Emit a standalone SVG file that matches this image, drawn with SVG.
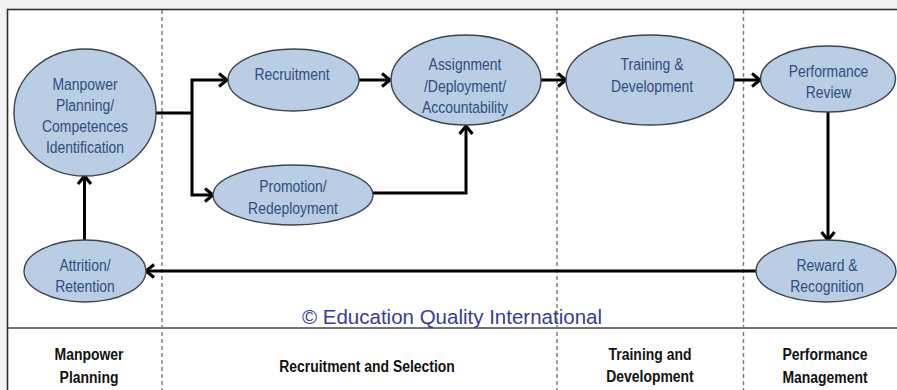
<svg xmlns="http://www.w3.org/2000/svg" width="897" height="390" viewBox="0 0 897 390">
<defs>
<style>
.bg{fill:#f3f3f3}
.frame{fill:#ffffff;stroke:#2e2e2e;stroke-width:1.6}
.sep{stroke:#444;stroke-width:1.4;fill:none}
.dash{stroke:#7a7a7a;stroke-width:1.4;stroke-dasharray:4 3;fill:none}
.node ellipse{fill:#b9cde5;stroke:#3d4450;stroke-width:1.4}
.node text{font-family:"Liberation Sans",Arial,sans-serif;font-size:17px;fill:#2f4d7e;text-anchor:middle}
.conn{stroke:#000;stroke-width:3;fill:none;stroke-linejoin:miter}
.lab{font-family:"Liberation Sans",Arial,sans-serif;font-size:17px;font-weight:bold;fill:#111;text-anchor:middle}
.copy{font-family:"Liberation Sans",Arial,sans-serif;font-size:20.5px;fill:#3a3a98}
</style>
<marker id="arr" markerUnits="userSpaceOnUse" markerWidth="14" markerHeight="16" refX="11" refY="8" orient="auto">
<path d="M3,1.5 L11,8 L3,14.5" fill="none" stroke="#000" stroke-width="3"/>
</marker>
</defs>
<rect class="bg" x="0" y="0" width="897" height="390"/>
<rect class="frame" x="7.5" y="9.5" width="895" height="390"/>
<line class="sep" x1="7.5" y1="328" x2="897" y2="328"/>
<g id="dividers">
<line class="dash" x1="162" y1="10" x2="162" y2="390"/>
<line class="dash" x1="557" y1="10" x2="557" y2="390"/>
<line class="dash" x1="743.5" y1="10" x2="743.5" y2="390"/>
</g>
<g id="connectors">
<polyline class="conn" points="156,113 192,113"/>
<polyline class="conn" points="192,113 192,80 227,80" marker-end="url(#arr)"/>
<polyline class="conn" points="192,113 192,195 213,195" marker-end="url(#arr)"/>
<line class="conn" x1="359" y1="80" x2="390" y2="80" marker-end="url(#arr)"/>
<polyline class="conn" points="372,193 466,193 466,126" marker-end="url(#arr)"/>
<line class="conn" x1="541" y1="80" x2="566" y2="80" marker-end="url(#arr)"/>
<line class="conn" x1="734" y1="80" x2="760" y2="80" marker-end="url(#arr)"/>
<line class="conn" x1="828" y1="112" x2="828" y2="240" marker-end="url(#arr)"/>
<line class="conn" x1="756" y1="271" x2="146" y2="271" marker-end="url(#arr)"/>
<line class="conn" x1="84.5" y1="240" x2="84.5" y2="176" marker-end="url(#arr)"/>
</g>
<g id="n-manpower" class="node">
<ellipse cx="85" cy="112.5" rx="71" ry="63.5"/>
<text transform="translate(85 90) scale(0.82 1)">Manpower</text>
<text transform="translate(85 111) scale(0.82 1)">Planning/</text>
<text transform="translate(85 132) scale(0.82 1)">Competences</text>
<text transform="translate(85 153) scale(0.82 1)">Identification</text>
</g>
<g id="n-recruitment" class="node">
<ellipse cx="293.5" cy="80" rx="65.5" ry="31"/>
<text transform="translate(292 80) scale(0.82 1)">Recruitment</text>
</g>
<g id="n-promotion" class="node">
<ellipse cx="293" cy="195" rx="80" ry="30"/>
<text transform="translate(293 192) scale(0.82 1)">Promotion/</text>
<text transform="translate(293 214) scale(0.82 1)">Redeployment</text>
</g>
<g id="n-assignment" class="node">
<ellipse cx="466" cy="80" rx="75" ry="45"/>
<text transform="translate(465 70) scale(0.82 1)">Assignment</text>
<text transform="translate(465 91.5) scale(0.82 1)">/Deployment/</text>
<text transform="translate(465 113) scale(0.82 1)">Accountability</text>
</g>
<g id="n-training" class="node">
<ellipse cx="650" cy="80" rx="84" ry="45"/>
<text transform="translate(652 70) scale(0.82 1)">Training &amp;</text>
<text transform="translate(652 91.5) scale(0.82 1)">Development</text>
</g>
<g id="n-performance" class="node">
<ellipse cx="828" cy="79" rx="67.5" ry="33"/>
<text transform="translate(828.5 76.5) scale(0.82 1)">Performance</text>
<text transform="translate(828.5 98) scale(0.82 1)">Review</text>
</g>
<g id="n-reward" class="node">
<ellipse cx="826" cy="271" rx="70" ry="31"/>
<text transform="translate(827 270.5) scale(0.82 1)">Reward &amp;</text>
<text transform="translate(827 292) scale(0.82 1)">Recognition</text>
</g>
<g id="n-attrition" class="node">
<ellipse cx="85" cy="271" rx="61" ry="31"/>
<text transform="translate(85 270.5) scale(0.82 1)">Attrition/</text>
<text transform="translate(85 292) scale(0.82 1)">Retention</text>
</g>
<text class="copy" x="302" y="323.5">© Education Quality International</text>
<g id="labels">
<text class="lab" transform="translate(89 360) scale(0.82 1)">Manpower</text>
<text class="lab" transform="translate(89 383) scale(0.82 1)">Planning</text>
<text class="lab" transform="translate(367 372) scale(0.82 1)">Recruitment and Selection</text>
<text class="lab" transform="translate(650 360) scale(0.82 1)">Training and</text>
<text class="lab" transform="translate(650 382) scale(0.82 1)">Development</text>
<text class="lab" transform="translate(825 360) scale(0.82 1)">Performance</text>
<text class="lab" transform="translate(825 383) scale(0.82 1)">Management</text>
</g>
</svg>
